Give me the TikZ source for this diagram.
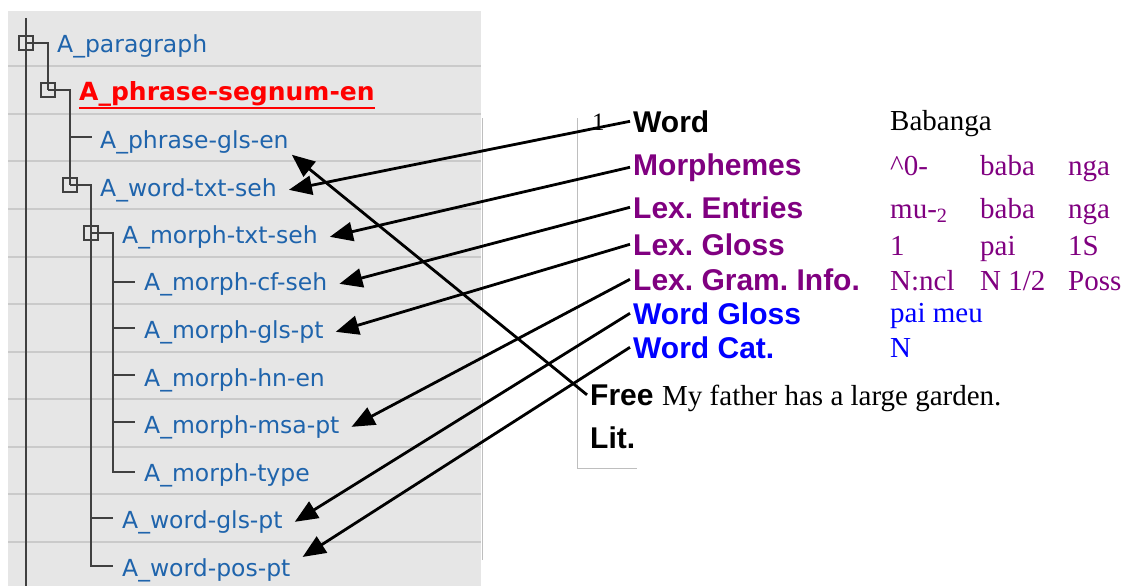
\documentclass[tikz,border=0pt]{standalone}
\usepackage{fontspec}
\setmainfont{Liberation Serif}
\newfontfamily\treefont{DejaVu Sans}
\newfontfamily\labelfont{Liberation Sans}
\usetikzlibrary{arrows.meta}
\frenchspacing

\tikzset{
    treeitem/.style={anchor=base west, inner xsep=12pt, inner ysep=1pt, xshift=-12pt,
        text=treeText, font=\treefont\fontsize{23.5}{28}\selectfont},
    segitem/.style={anchor=base west, inner sep=0pt,
        text=segRed, font=\treefont\bfseries\fontsize{25}{28}\selectfont},
    expbox/.style={draw=treeLine, line width=1.2pt, minimum size=14pt, inner sep=0pt},
    treeline/.style={treeLine, line width=1.3pt},
    rowlabel/.style={anchor=base west, inner xsep=3pt, xshift=-3pt,
        font=\labelfont\bfseries\fontsize{30}{34}\selectfont},
    valtext/.style={anchor=base west, inner sep=0pt, font=\fontsize{29}{32}\selectfont},
    pointer/.style={line width=2.8pt, -{Triangle[length=23pt,width=19pt]}}
}

\begin{document}
\begin{tikzpicture}[x=1pt, y=-1pt]
    \definecolor{panelGrey}{HTML}{E6E6E6}
    \definecolor{rowLine}{HTML}{CACACA}
    \definecolor{frameGrey}{HTML}{BEBEBE}
    \definecolor{treeLine}{HTML}{404040}
    \definecolor{treeText}{HTML}{1F64AC}
    \definecolor{segRed}{HTML}{FF0000}
    \definecolor{morphPurple}{HTML}{800080}
    \definecolor{wordBlue}{HTML}{0000FF}

    \useasboundingbox (0,0) rectangle (1128,586);

    % Grey tree panel and its row lines
    \fill[panelGrey] (8,11) rectangle (481,586);
    \foreach \y in {66,114,161,209,257,304,352,399,447,494,542}
        \draw[rowLine, line width=1.5pt] (8,\y) -- (481,\y);
    \draw[frameGrey, line width=1pt] (482,118) -- (482,560);

    % Frame of the interlinear panel
    \draw[frameGrey, line width=1pt] (577,118) |- (637,468);

    % Expand boxes
    \node[expbox] (bpara) at (26,43) {};
    \node[expbox] (bseg) at (48,90) {};
    \node[expbox] (bword) at (70,185) {};
    \node[expbox] (bmorph) at (91,233) {};

    % Tree lines
    \draw[treeline] (26,18) -- (26,586);
    \draw[treeline] (bpara.center) -| (bseg.center);
    \draw[treeline] (bseg.center) -| (bword.center);
    \draw[treeline] (70,137) -- (92,137);
    \draw[treeline] (bword.center) -| (bmorph.center);
    \draw[treeline] (bmorph.center) -- (113,233) |- (135,472);
    \foreach \y in {282,328,375,422}
        \draw[treeline] (113,\y) -- (135,\y);
    \draw[treeline] (bmorph.center) |- (113,566);
    \draw[treeline] (91,518) -- (113,518);

    % Tree labels
    \node[treeitem] (para) at (57,53) {A\_paragraph};
    \node[segitem] (seg) at (79,100) {A\_phrase-segnum-en};
    \draw[segRed, line width=1.6pt] ([yshift=-8pt]seg.base west) -- ([yshift=-8pt]seg.base east);
    \node[treeitem] (phrgls) at (100,148) {A\_phrase-gls-en};
    \node[treeitem] (wtxt) at (100,196) {A\_word-txt-seh};
    \node[treeitem] (mtxt) at (122,243) {A\_morph-txt-seh};
    \node[treeitem] (mcf) at (144,290) {A\_morph-cf-seh};
    \node[treeitem] (mgls) at (144,338) {A\_morph-gls-pt};
    \node[treeitem] (mhn) at (144,386) {A\_morph-hn-en};
    \node[treeitem] (mmsa) at (144,433) {A\_morph-msa-pt};
    \node[treeitem] (mtype) at (144,481) {A\_morph-type};
    \node[treeitem] (wgls) at (122,528) {A\_word-gls-pt};
    \node[treeitem] (wpos) at (122,576) {A\_word-pos-pt};

    % Interlinear row labels
    \node[valtext, font=\fontsize{25}{28}\selectfont] (num) at (592,131) {1};
    \node[rowlabel] (lword) at (633,132) {Word};
    \node[rowlabel, text=morphPurple] (lmorph) at (633,175) {Morphemes};
    \node[rowlabel, text=morphPurple] (lentry) at (633,218) {Lex. Entries};
    \node[rowlabel, text=morphPurple] (lgloss) at (633,255) {Lex. Gloss};
    \node[rowlabel, text=morphPurple] (lgram) at (633,290) {Lex. Gram. Info.};
    \node[rowlabel, text=wordBlue] (lwgloss) at (633,324) {Word Gloss};
    \node[rowlabel, text=wordBlue] (lwcat) at (633,358) {Word Cat.};
    \node[rowlabel] (lfree) at (590,405) {Free};
    \node[rowlabel] (llit) at (590,448) {Lit.};

    % Interlinear values
    \node[valtext] (vword) at (890,131) {Babanga};
    \node[valtext, text=morphPurple] (vmorA) at (890,175) {\textasciicircum0-};
    \node[valtext, text=morphPurple] (vmorB) at (980,175) {baba};
    \node[valtext, text=morphPurple] (vmorC) at (1068,175) {nga};
    \node[valtext, text=morphPurple] (ventA) at (890,218) {mu-\textsubscript{2}};
    \node[valtext, text=morphPurple] (ventB) at (980,218) {baba};
    \node[valtext, text=morphPurple] (ventC) at (1068,218) {nga};
    \node[valtext, text=morphPurple] (vglsA) at (890,255) {1};
    \node[valtext, text=morphPurple] (vglsB) at (980,255) {pai};
    \node[valtext, text=morphPurple] (vglsC) at (1068,255) {1S};
    \node[valtext, text=morphPurple] (vgramA) at (890,290) {N:ncl};
    \node[valtext, text=morphPurple] (vgramB) at (980,290) {N 1/2};
    \node[valtext, text=morphPurple] (vgramC) at (1068,290) {Poss};
    \node[valtext, text=wordBlue] (vwgloss) at (890,322) {pai meu};
    \node[valtext, text=wordBlue] (vwcat) at (890,357) {N};
    \node[valtext] (vfree) at (662,405) {My father has a large garden.};

    % Arrows from rows to fields
    \draw[pointer] (lword.west) -- (wtxt.east);
    \draw[pointer] (lmorph.west) -- (mtxt.east);
    \draw[pointer] (lentry.west) -- (mcf.east);
    \draw[pointer] (lgloss.west) -- (mgls.east);
    \draw[pointer] (lgram.west) -- (mmsa.east);
    \draw[pointer] (lwgloss.west) -- (wgls.east);
    \draw[pointer] (lwcat.west) -- (wpos.north east);
    \draw[pointer] (lfree.west) -- ([xshift=-9pt]phrgls.south east);

\end{tikzpicture}
\end{document}
